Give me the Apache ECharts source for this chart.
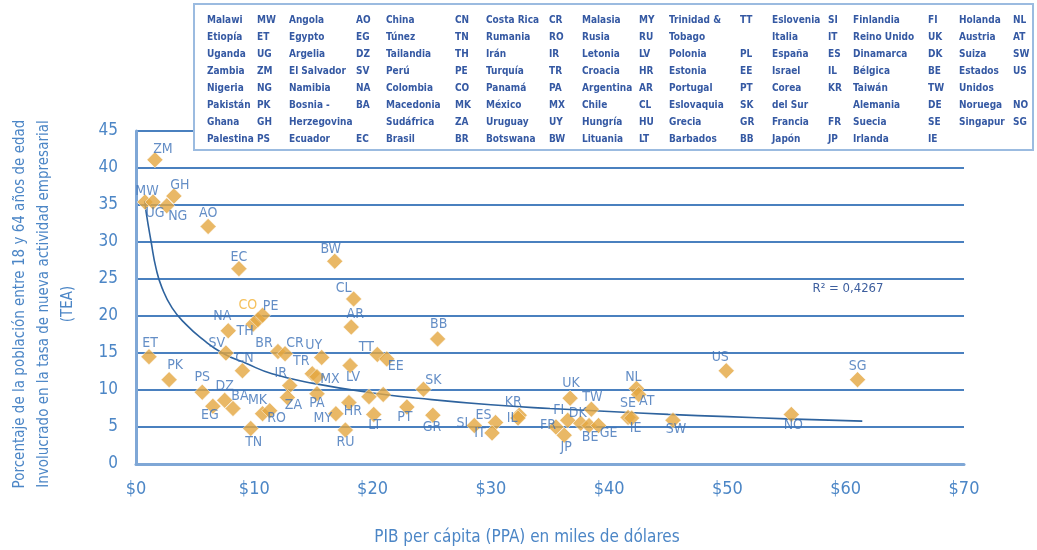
<!DOCTYPE html>
<html>
<head>
<meta charset="utf-8">
<script src="https://cdn.jsdelivr.net/npm/echarts@6/dist/echarts.min.js"></script>
<style>
html,body{margin:0;padding:0;background:#fff;}
#chart{width:1037px;height:550px;}
</style>
</head>
<body>
<div id="chart"></div>
<script>
// ---------- DATA ----------
const codes = ['ZM','MW','UG','NG','GH','AO','EC','BW','CL','AR','BB','TT','EE','UY','LV',
  'ET','PK','PS','EG','DZ','BA','NA','SV','CN','TN','TH','CO','PE','MK','RO','BR','CR','IR','ZA',
  'TR','MX','PA','MY','HR','RU','LT','HU','PL','SK','PT','GR','SI','ES','IT','KR','IL',
  'UK','FI','FR','JP','DK','BE','GE','TW','NL','AT','SE','IE','SW','US','SG','NO'];
const gdp = [1.6,0.76,1.44,2.6,3.2,6.1,8.7,16.8,18.4,18.2,25.5,20.4,21.2,15.7,18.1,
  1.1,2.8,5.6,6.5,7.5,8.2,7.8,7.6,9.0,9.7,9.9,10.3,10.7,10.7,11.3,12.0,12.6,13.0,12.8,
  14.9,15.3,15.3,16.9,18.0,17.7,20.1,19.7,20.9,24.3,22.9,25.1,28.6,30.4,30.1,32.4,32.3,
  36.7,36.5,35.5,36.2,37.6,38.3,39.1,38.5,42.3,42.5,41.6,41.9,45.4,49.9,61.0,55.4];
const tea = [41.1,35.4,35.4,34.9,36.2,32.1,26.4,27.4,22.3,18.5,16.9,14.8,14.2,14.4,13.3,
  14.5,11.4,9.7,7.8,8.6,7.5,18.0,15.0,12.6,4.8,18.9,19.5,20.1,6.8,7.2,15.2,14.9,10.6,9.0,
  12.2,11.8,9.5,6.8,8.3,4.6,6.7,9.1,9.4,10.1,7.7,6.6,5.2,5.6,4.2,6.6,6.2,
  8.9,5.9,5.0,3.9,5.5,5.2,5.2,7.4,10.2,9.4,6.3,6.2,5.9,12.6,11.4,6.7];
const unlabeled = ['HU','PL'];

// trend line (power fit)
const trendX = [0.75,0.85,1.27,1.7,2.2,3.05,4.2,5.6,7.3,9.3,11.5,15,20,25,30,35,40,45,50,55,61.4];
const trendY = [35.5,34.1,30.1,26.4,23.8,21.1,18.9,16.9,15.0,13.6,12.2,10.9,9.6,8.7,8.0,7.5,7.1,6.7,6.4,6.1,5.8];
const rSquaredText = 'R² = 0,4267';

const xTickValues = [0,10,20,30,40,50,60,70];
const yTicks = [0,5,10,15,20,25,30,35,40,45];
const xTitle = 'PIB per cápita (PPA) en miles de dólares';
const yTitle = 'Porcentaje de la población entre 18 y 64 años de edad\nInvolucrado en la tasa de nueva actividad empresarial\n(TEA)';

// legend table (9 column groups x 8 rows)
const legendNames = [
  ['Malawi','Etiopía','Uganda','Zambia','Nigeria','Pakistán','Ghana','Palestina'],
  ['Angola','Egypto','Argelia','El Salvador','Namibia','Bosnia -','Herzegovina','Ecuador'],
  ['China','Túnez','Tailandia','Perú','Colombia','Macedonia','Sudáfrica','Brasil'],
  ['Costa Rica','Rumania','Irán','Turquía','Panamá','México','Uruguay','Botswana'],
  ['Malasia','Rusia','Letonia','Croacia','Argentina','Chile','Hungría','Lituania'],
  ['Trinidad &','Tobago','Polonia','Estonia','Portugal','Eslovaquia','Grecia','Barbados'],
  ['Eslovenia','Italia','España','Israel','Corea','del Sur','Francia','Japón'],
  ['Finlandia','Reino Unido','Dinamarca','Bélgica','Taiwán','Alemania','Suecia','Irlanda'],
  ['Holanda','Austria','Suiza','Estados','Unidos','Noruega','Singapur','']
];
const legendCodes = [
  ['MW','ET','UG','ZM','NG','PK','GH','PS'],
  ['AO','EG','DZ','SV','NA','BA','','EC'],
  ['CN','TN','TH','PE','CO','MK','ZA','BR'],
  ['CR','RO','IR','TR','PA','MX','UY','BW'],
  ['MY','RU','LV','HR','AR','CL','HU','LT'],
  ['TT','','PL','EE','PT','SK','GR','BB'],
  ['SI','IT','ES','IL','KR','','FR','JP'],
  ['FI','UK','DK','BE','TW','DE','SE','IE'],
  ['NL','AT','SW','US','','NO','SG','']
];

// ---------- STYLE / LAYOUT ----------
const FONT = "'Liberation Sans Narrow','DejaVu Sans Condensed','Liberation Sans',sans-serif";
const labelOffsets = {
  ZM:[8,-11], MW:[2,-11], UG:[2,11], NG:[11,11], GH:[6,-11], AO:[0,-13], EC:[0,-11],
  BW:[-4,-12], CL:[-10,-11], AR:[4,-13], BB:[1,-15], TT:[-11,-7], EE:[9,7], UY:[-8,-12],
  LV:[3,12], ET:[1,-13], PK:[6,-14], PS:[0,-15], EG:[-3,9], DZ:[0,-14], BA:[7,-12],
  NA:[-6,-14], SV:[-9,-10], CN:[2,-12], TN:[3,14], TH:[-8,7], CO:[-10,-14], PE:[8,-9],
  MK:[-5,-13], RO:[7,8], BR:[-14,-8], CR:[10,-10], IR:[-9,-12], ZA:[6,8], TR:[-11,-12],
  MX:[13,3], PA:[0,10], MY:[-13,5], HR:[4,9], RU:[0,12], LT:[1,11], SK:[10,-9],
  PT:[-2,10], GR:[-1,12], SI:[-12,-2], ES:[-12,-7], IT:[-12,0], KR:[-6,-13], IL:[-6,0],
  UK:[1,-15], FI:[-9,-10], FR:[-8,-2], JP:[2,12], DK:[-3,-10], BE:[1,12], GE:[10,8],
  TW:[1,-12], NL:[-3,-11], AT:[8,7], SE:[0,-14], IE:[4,10], SW:[3,9], US:[-6,-13],
  SG:[0,-13], NO:[2,11]
};
const specialLabelColor = {CO:'#F2B134'};
const legendNameX = [207,289,386,486,582,669,772,853,959];
const legendCodeX = [257,356,455,549,639,740,828,928,1013];
const legendRowY0 = 20, legendRowStep = 17;

const blue = '#3D72B8';
const axisBlue = '#4C86C6';

// ---------- BUILD ----------
const scatterData = codes.map((c,i)=>({
  name:c,
  value:[gdp[i], tea[i]],
  label:{
    show: unlabeled.indexOf(c) < 0,
    offset: labelOffsets[c] || [0,-13],
    color: specialLabelColor[c] || blue
  }
}));
const trendData = trendX.map((x,i)=>[x, trendY[i]]);

const legendEls = [{
  type:'rect', z:100,
  shape:{x:194,y:4,width:839,height:146},
  style:{fill:'#fff', stroke:'#9BBBE0', lineWidth:2}
}];
legendNames.forEach((col,c)=>{
  col.forEach((nm,r)=>{
    const y = legendRowY0 + r*legendRowStep;
    if (nm) legendEls.push({type:'text', z:101, style:{text:nm, x:legendNameX[c], y:y,
      fill:'#3559A3', font:'bold 10px '+FONT, verticalAlign:'middle', align:'left'}});
    const cd = legendCodes[c][r];
    if (cd) legendEls.push({type:'text', z:101, style:{text:cd, x:legendCodeX[c], y:y,
      fill:'#3559A3', font:'bold 10px '+FONT, verticalAlign:'middle', align:'left'}});
  });
});

const chart = echarts.init(document.getElementById('chart'), null, {renderer:'canvas'});
chart.setOption({
  animation:false,
  backgroundColor:'#fff',
  grid:{left:136, right:73, top:131, bottom:86, containLabel:false},
  xAxis:{
    type:'value', min:0, max:70, interval:10,
    axisLine:{show:true, lineStyle:{color:'#7FA7D6', width:3}},
    axisTick:{show:false},
    splitLine:{show:false},
    axisLabel:{color:axisBlue, fontSize:18, fontFamily:FONT, margin:16,
      formatter:v=> xTickValues.indexOf(v)>=0 ? '$'+v : ''}
  },
  yAxis:{
    type:'value', min:0, max:45, interval:5,
    axisLine:{show:true, lineStyle:{color:'#7FA7D6', width:3}},
    axisTick:{show:false},
    splitLine:{show:true, lineStyle:{color:'#4A80BF', width:2}},
    axisLabel:{color:axisBlue, fontSize:17, fontFamily:FONT, margin:18,
      formatter:v=> yTicks.indexOf(v)>=0 ? String(v) : ''}
  },
  series:[
    {
      type:'line', data:trendData, smooth:true, showSymbol:false, z:2,
      lineStyle:{color:'#2E639E', width:1.6}, silent:true
    },
    {
      type:'scatter', data:scatterData, symbol:'diamond', symbolSize:16, z:3,
      itemStyle:{color:'#E4A640', borderColor:'#fff', borderWidth:0.6},
      label:{show:true, position:'inside', fontSize:14, fontFamily:FONT, color:blue,
        formatter:p=>p.name}
    }
  ],
  graphic:[
    ...legendEls,
    {type:'text', z:50, style:{text:rSquaredText, x:848, y:289, fill:'#3D5E9E',
      font:'13px '+FONT, align:'center', verticalAlign:'middle'}},
    {type:'text', z:50, style:{text:xTitle, x:527, y:538, fill:axisBlue,
      font:'17px '+FONT, align:'center', verticalAlign:'middle'}},
    {type:'text', z:50, x:44, y:304, rotation:Math.PI/2,
      style:{text:yTitle, x:0, y:0, fill:axisBlue, font:'15px '+FONT, lineHeight:24,
      align:'center', verticalAlign:'middle'}}
  ]
});
</script>
</body>
</html>
